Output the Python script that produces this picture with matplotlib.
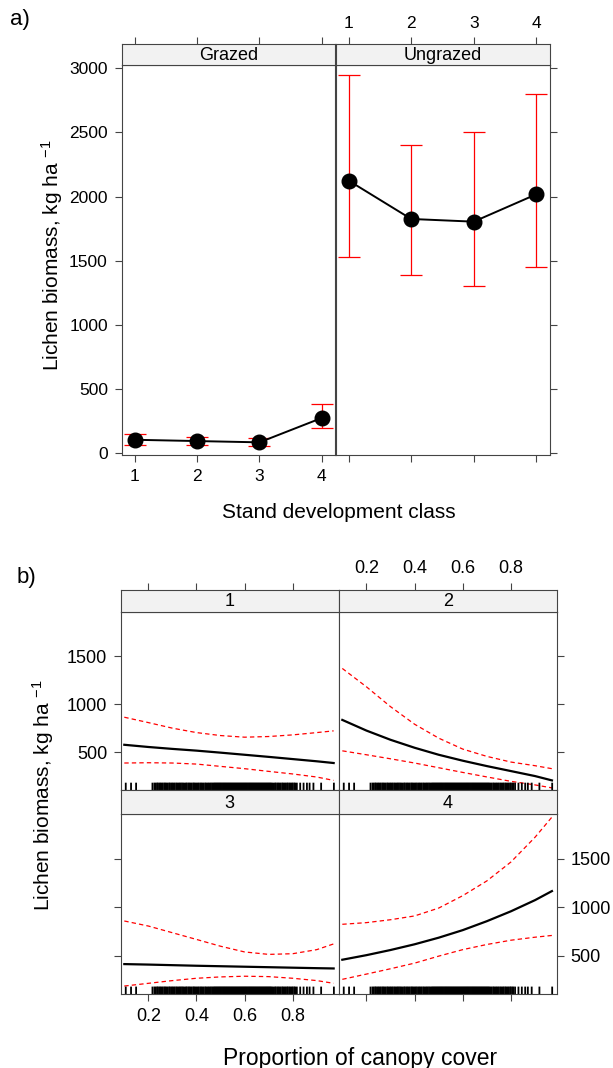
import matplotlib
matplotlib.use('Agg')
import matplotlib.pyplot as plt

plt.rcParams['font.family'] = ['Liberation Sans', 'DejaVu Sans']
plt.rcParams['mathtext.fontset'] = 'custom'
plt.rcParams['mathtext.rm'] = 'Liberation Sans'
plt.rcParams['mathtext.it'] = 'Liberation Sans:italic'

# ---- data, panel a ----
stand = [1, 2, 3, 4]
grazed_mean = [105, 95, 85, 275]
grazed_lo = [68, 62, 55, 195]
grazed_hi = [152, 128, 118, 384]
ungrazed_mean = [2125, 1826, 1805, 2018]
ungrazed_lo = [1532, 1387, 1304, 1454]
ungrazed_hi = [2948, 2405, 2502, 2800]

# ---- data, panel b ----
canopy = [0.10, 0.2, 0.3, 0.4, 0.5, 0.6, 0.7, 0.8, 0.9, 0.97]
fit1 = [576, 553, 533, 515, 494, 472, 450, 427, 404, 386]
hi1 = [863, 807, 749, 703, 672, 655, 662, 679, 703, 721]
lo1 = [386, 389, 386, 375, 351, 327, 299, 272, 240, 205]
fit2 = [835, 724, 628, 545, 472, 410, 354, 302, 250, 205]
hi2 = [1371, 1180, 973, 790, 645, 531, 455, 396, 358, 327]
lo2 = [513, 472, 430, 386, 337, 288, 241, 195, 158, 127]
fit3 = [413, 408, 402, 396, 391, 386, 381, 376, 371, 368]
hi3 = [857, 805, 736, 667, 597, 538, 513, 520, 562, 621]
lo3 = [187, 215, 243, 267, 281, 288, 284, 267, 243, 215]
fit4 = [458, 505, 558, 617, 685, 763, 855, 957, 1072, 1165]
hi4 = [823, 840, 870, 909, 990, 1118, 1270, 1465, 1720, 1927]
lo4 = [256, 310, 365, 423, 495, 562, 615, 659, 690, 708]
classes = ['1', '2', '3', '4']

rug = [0.106, 0.128, 0.149,
       0.217, 0.225, 0.23, 0.236, 0.24, 0.246, 0.25, 0.255, 0.26, 0.266,
       0.27, 0.275, 0.28, 0.286, 0.29, 0.296, 0.30, 0.305, 0.31, 0.316,
       0.32, 0.326, 0.33, 0.335, 0.34, 0.345, 0.35, 0.356, 0.36, 0.366,
       0.37, 0.375, 0.38, 0.386, 0.39, 0.395, 0.40, 0.405, 0.41, 0.416,
       0.42, 0.425, 0.43, 0.436, 0.44, 0.446, 0.45, 0.455, 0.46, 0.465,
       0.47, 0.474, 0.478, 0.482, 0.486, 0.49, 0.494, 0.498, 0.502, 0.506,
       0.51, 0.514, 0.518, 0.522, 0.526, 0.53, 0.534, 0.538, 0.542, 0.546,
       0.55, 0.554, 0.558, 0.562, 0.566, 0.57, 0.574, 0.578, 0.582, 0.586,
       0.59, 0.594, 0.598, 0.602, 0.606, 0.61, 0.614, 0.618, 0.622, 0.626,
       0.63, 0.634, 0.638, 0.642, 0.646, 0.65, 0.654, 0.658, 0.662, 0.666,
       0.67, 0.674, 0.678, 0.682, 0.686, 0.69, 0.694, 0.698, 0.702, 0.706,
       0.71, 0.715, 0.72, 0.726, 0.73, 0.736, 0.74, 0.745, 0.75, 0.756,
       0.76, 0.766, 0.77, 0.776, 0.78, 0.786, 0.79, 0.796, 0.80, 0.806,
       0.81, 0.817,
       0.831, 0.845, 0.859, 0.870, 0.886, 0.918, 0.971]

W, H = 613, 1068
frame = '#444444'
ylab = 'Lichen biomass, kg ha ${}^{-1}$'

fig = plt.figure(figsize=(W / 100, H / 100), dpi=100)


def box(l, t, r, b):
    return [l / W, 1 - b / H, (r - l) / W, (b - t) / H]


def style(ax, size, pad=4.5, **kw):
    for s in ax.spines.values():
        s.set_color(frame)
        s.set_linewidth(0.8)
    opts = dict(left=False, right=False, bottom=False, top=False,
                labelleft=False, labelright=False, labelbottom=False, labeltop=False)
    opts.update(kw)
    ax.tick_params(direction='out', length=5, width=0.8, color=frame,
                   labelsize=size, pad=pad, **opts)


def strip(rect, label, xlim, xticks, size, ticks=True, labels=False):
    s = fig.add_axes(rect)
    s.set_facecolor('#f2f2f2')
    s.set_xlim(xlim)
    s.set_yticks([])
    s.set_xticks(xticks)
    style(s, size, top=ticks, labeltop=labels)
    s.text(0.5, 0.45, label, transform=s.transAxes, ha='center', va='center', fontsize=13)
    return s


# ================= panel a =================
xl_a = (0.79, 4.22)
yl_a = (-16, 3026)
panels_a = [
    ('Grazed', box(121.7, 65, 335.5, 455.3), grazed_mean, grazed_lo, grazed_hi),
    ('Ungrazed', box(335.5, 65, 550, 455.3), ungrazed_mean, ungrazed_lo, ungrazed_hi),
]
for i, (name, rect, m, lo, hi) in enumerate(panels_a):
    ax = fig.add_axes(rect)
    err = [[a - b for a, b in zip(m, lo)], [b - a for a, b in zip(m, hi)]]
    ax.errorbar(stand, m, yerr=err, fmt='none', ecolor='red', elinewidth=0.9,
                capsize=7.8, capthick=0.9)
    ax.plot(stand, m, '-o', color='black', lw=1.4, ms=10.5)
    ax.set_xlim(xl_a)
    ax.set_ylim(yl_a)
    ax.set_xticks(stand)
    ax.set_yticks([0, 500, 1000, 1500, 2000, 2500, 3000])
    if i == 0:
        style(ax, 12.5, pad=5, bottom=True, labelbottom=True, left=True, labelleft=True)
    else:
        style(ax, 12.5, pad=5, bottom=True, right=True)
    r = rect
    strip([r[0], r[1] + r[3], r[2], 21 / H], name, xl_a, stand, 12.5, labels=(i == 1))

fig.text(20 / W, 1 - 20 / H, 'a)', fontsize=16, ha='center', va='center')
fig.text(52 / W, 1 - 255 / H, ylab, rotation=90, ha='center', va='center', fontsize=15)
fig.text(339 / W, 1 - 513 / H, 'Stand development class', ha='center', va='center', fontsize=15)

# ================= panel b =================
xl_b = (0.085, 0.991)
yl_b = (105, 1962)
L, M, R = 120.7, 338.7, 557
rows = [(611.7, 790), (813.7, 994)]
fits = [(fit1, lo1, hi1), (fit2, lo2, hi2), (fit3, lo3, hi3), (fit4, lo4, hi4)]
cticks = [0.2, 0.4, 0.6, 0.8]
for k in range(4):
    row, col = divmod(k, 2)
    t, b = rows[row]
    l, r = (L, M) if col == 0 else (M, R)
    ax = fig.add_axes(box(l, t, r, b))
    f, lo, hi = fits[k]
    ax.plot(canopy, hi, color='red', lw=0.9, ls=(0, (3.5, 2.5)))
    ax.plot(canopy, lo, color='red', lw=0.9, ls=(0, (3.5, 2.5)))
    ax.plot(canopy, f, color='black', lw=1.6)
    ax.vlines(rug, 0, 0.041, transform=ax.get_xaxis_transform(), color='black',
              lw=1.3, snap=False)
    ax.set_xlim(xl_b)
    ax.set_ylim(yl_b)
    ax.set_xticks(cticks)
    ax.set_yticks([500, 1000, 1500])
    opts = {}
    if row == 1:
        opts['bottom'] = True
        opts['labelbottom'] = (col == 0)
    if col == 0:
        opts['left'] = True
        opts['labelleft'] = (row == 0)
    else:
        opts['right'] = True
        opts['labelright'] = (row == 1)
    style(ax, 13, pad=4.8, **opts)
    strip(box(l, t - (21.7 if row == 0 else 23.7), r, t), classes[k], xl_b, cticks, 13,
          ticks=(row == 0), labels=(row == 0 and col == 1))

fig.text(26 / W, 1 - 577 / H, 'b)', fontsize=16, ha='center', va='center')
fig.text(43 / W, 1 - 795 / H, ylab, rotation=90, ha='center', va='center', fontsize=15)
fig.text(360 / W, 1 - 1058 / H, 'Proportion of canopy cover', ha='center', va='center', fontsize=16.5)

fig.savefig('out.png', dpi=100)
